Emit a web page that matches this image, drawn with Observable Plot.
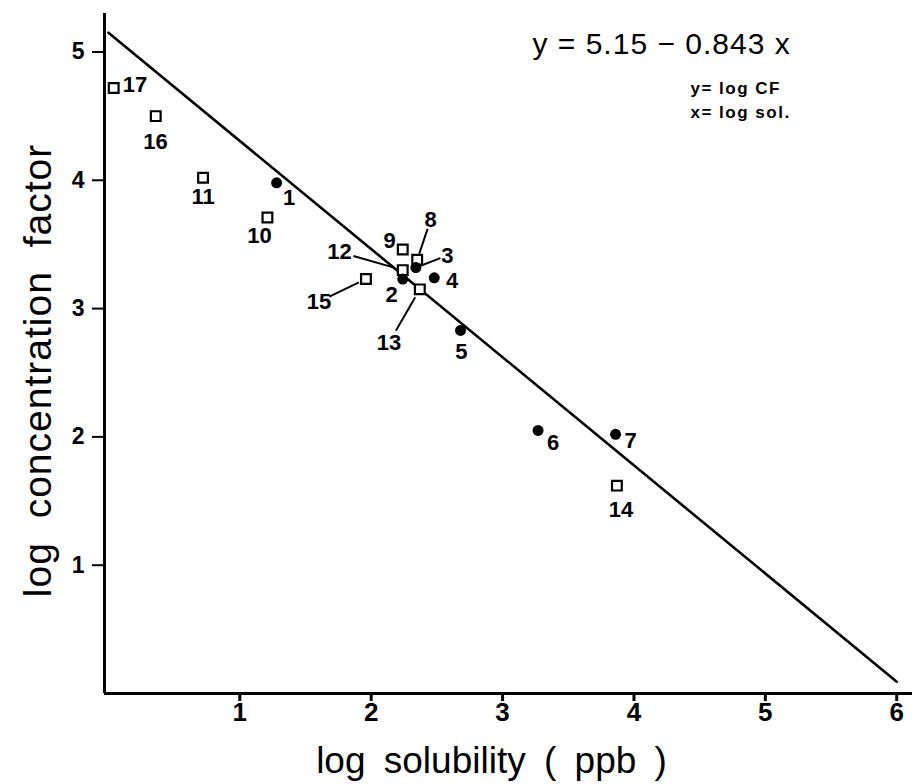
<!DOCTYPE html>
<html><head><meta charset="utf-8">
<script src="https://cdn.jsdelivr.net/npm/d3@7"></script>
<script src="https://cdn.jsdelivr.net/npm/@observablehq/plot@0.6"></script>
<style>
body{margin:0;background:#fff}
</style>
</head><body><div id="chart"></div>
<script>
// ---- data ----
const ids    = [1, 2, 3, 4, 5, 6, 7, 8, 9, 10, 11, 12, 13, 14, 15, 16, 17];
const logSol = [1.28, 2.24, 2.34, 2.48, 2.68, 3.27, 3.86, 2.35, 2.24, 1.21, 0.72, 2.24, 2.37, 3.87, 1.96, 0.36, 0.04];
const logCF  = [3.98, 3.23, 3.32, 3.24, 2.83, 2.05, 2.02, 3.38, 3.46, 3.71, 4.02, 3.30, 3.15, 1.62, 3.23, 4.50, 4.72];
const filledIds = [1, 2, 3, 4, 5, 6, 7];
// label anchor positions (data units)
const labelSol = [1.375, 2.155, 2.579, 2.615, 2.686, 3.384, 3.974, 2.452, 2.140, 1.150, 0.720, 1.759, 2.136, 3.902, 1.603, 0.358, 0.202];
const labelCF  = [3.862, 3.106, 3.414, 3.214, 2.660, 1.952, 1.968, 3.691, 3.531, 3.564, 3.870, 3.441, 2.736, 1.434, 3.055, 4.302, 4.743];
const leaderIds = [3, 8, 12, 13, 15];
// regression
const intercept = 5.15, slope = -0.843;
const fitSol = [0, 6];
const xTicks = [1, 2, 3, 4, 5, 6];
const yTicks = [1, 2, 3, 4, 5];
const equation = "y = 5.15 − 0.843 x";
const defs = ["y= log CF", "x= log sol."];
const xLabel = "log solubility ( ppb )";
const yLabel = "log concentration factor";

const pts = ids.map((id, i) => ({id, x: logSol[i], y: logCF[i], lx: labelSol[i], ly: labelCF[i], filled: filledIds.includes(id)}));
const fit = fitSol.map(x => ({x, y: intercept + slope * x}));
const t1 = 0.15, t2 = 0.78;
const leaders = pts.filter(d => leaderIds.includes(d.id)).map(d => ({
  x1: d.x + t1 * (d.lx - d.x), y1: d.y + t1 * (d.ly - d.y),
  x2: d.x + t2 * (d.lx - d.x), y2: d.y + t2 * (d.ly - d.y)
}));

const narrow = "'Liberation Sans Narrow', 'Liberation Sans', Arial, sans-serif";

const chart = Plot.plot({
  width: 912, height: 784,
  marginLeft: 104, marginRight: 0, marginTop: 13, marginBottom: 91,
  style: {fontFamily: "'Liberation Sans', Arial, sans-serif", background: "#fff", color: "#000"},
  x: {domain: [-0.03, 6.12]},
  y: {domain: [0, 5.3]},
  marks: [
    Plot.axisX({ticks: xTicks, tickFormat: "d", tickSize: 8, tickPadding: 1, fontSize: 26, fontWeight: "bold", fontFamily: narrow, label: null, strokeWidth: 3}),
    Plot.axisY({ticks: yTicks, tickFormat: "d", tickSize: 12, tickPadding: 8, fontSize: 23, fontWeight: "bold", fontFamily: narrow, label: null, strokeWidth: 2}),
    Plot.ruleY([0], {strokeWidth: 3}),
    Plot.ruleX([-0.03], {strokeWidth: 3}),
    Plot.line(fit, {x: "x", y: "y", strokeWidth: 2.6, stroke: "#000"}),
    Plot.link(leaders, {x1: "x1", y1: "y1", x2: "x2", y2: "y2", strokeWidth: 2, stroke: "#000"}),
    Plot.dot(pts.filter(d => !d.filled), {x: "x", y: "y", symbol: "square", r: 5.5, fill: "#fff", stroke: "#000", strokeWidth: 2.2}),
    Plot.dot(pts.filter(d => d.filled), {x: "x", y: "y", r: 5.5, fill: "#000", stroke: "none"}),
    Plot.text(pts, {x: "lx", y: "ly", text: d => String(d.id), fontSize: 22, fontWeight: "bold", fontFamily: narrow}),
    Plot.text([equation], {frameAnchor: "top-left", dx: 428, dy: 40, textAnchor: "start", lineAnchor: "bottom", fontSize: 30}),
    Plot.text([defs[0]], {frameAnchor: "top-left", dx: 586, dy: 80, textAnchor: "start", lineAnchor: "bottom", fontSize: 17, fontWeight: "bold"}),
    Plot.text([defs[1]], {frameAnchor: "top-left", dx: 586, dy: 104, textAnchor: "start", lineAnchor: "bottom", fontSize: 17, fontWeight: "bold"}),
    Plot.text([xLabel], {frameAnchor: "bottom", dx: -17, dy: 79, textAnchor: "middle", lineAnchor: "bottom", fontSize: 37}),
    Plot.text([yLabel], {frameAnchor: "left", dx: -66, dy: 17, textAnchor: "middle", lineAnchor: "middle", rotate: -90, fontSize: 39})
  ]
});
const sel = d3.select(chart).selectAll("text");
sel.filter(function() { return this.textContent === xLabel; }).style("word-spacing", "8px");
sel.filter(function() { return this.textContent === yLabel; }).style("word-spacing", "12px").style("letter-spacing", "1px");
sel.filter(function() { return this.textContent === equation; }).style("letter-spacing", "1px");
sel.filter(function() { return defs.includes(this.textContent); }).style("letter-spacing", "1.5px");
document.getElementById("chart").appendChild(chart);
</script>
</body></html>
